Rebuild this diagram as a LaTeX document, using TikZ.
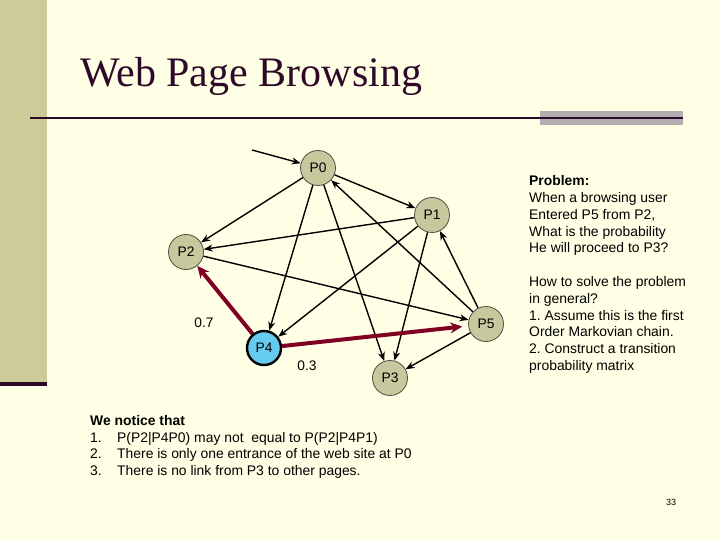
\documentclass[tikz,border=0pt]{standalone}
\usepackage{fontspec}
\setmainfont{Liberation Sans}
\newfontfamily\titlefont{Liberation Serif}
\usetikzlibrary{arrows.meta}
\frenchspacing
\definecolor{bgcream}{RGB}{255,255,229}
\definecolor{sidebar}{RGB}{204,204,153}
\definecolor{darkrule}{RGB}{46,10,40}
\definecolor{greybar}{RGB}{178,174,178}
\definecolor{pagefill}{RGB}{200,200,158}
\definecolor{pageedge}{RGB}{80,80,70}
\definecolor{hotfill}{RGB}{102,204,238}
\definecolor{pathred}{RGB}{128,0,36}
\tikzset{
  page/.style={circle, draw=pageedge, line width=0.8pt, fill=pagefill, minimum size=35pt, inner sep=0pt, font=\fontsize{13.8}{16}\selectfont},
  hotpage/.style={page, draw=black, line width=2.4pt, fill=hotfill, minimum size=34pt},
  link/.style={line width=1.4pt, -{Stealth[length=9pt,width=7pt]}},
  hotlink/.style={line width=4pt, color=pathred, -{Stealth[length=12pt,width=11pt]}},
  prob/.style={font=\fontsize{13.8}{16}\selectfont},
  body/.style={inner sep=0pt, align=left, anchor=north west, font=\fontsize{13.9}{16.8}\selectfont}
}
\begin{document}
\begin{tikzpicture}[x=1pt, y=-1pt]
\useasboundingbox (0,0) rectangle (720,540);
\fill[bgcream] (0,0) rectangle (720,540);
\fill[sidebar] (0,0) rectangle (47,382);
\fill[darkrule] (0,382) rectangle (47,386);
\fill[greybar] (540,111) rectangle (683,125);
\draw[darkrule, line width=2.5pt] (30,118) -- (683,118);
\node[anchor=base west, inner sep=0pt, text=darkrule, font=\titlefont\fontsize{42}{46}\selectfont] (title) at (80,87) {Web Page Browsing};

% pages
\node[page] (P0) at (318,168) {P0};
\node[page] (P1) at (432,215) {P1};
\node[page] (P2) at (186,252) {P2};
\node[page] (P3) at (390,378) {P3};
\node[page] (P5) at (486,324) {P5};
\node[hotpage] (P4) at (264,348) {P4};
\coordinate (entry) at (252,150);

% links
\draw[link] (entry) -- (P0);
\draw[link] (P0) -- (P2);
\draw[link] (P0) -- (P1);
\draw[link] (P0) -- (P4);
\draw[link] (P0) -- (P3);
\draw[link] (P1) -- (P2);
\draw[link] (P1) -- (P4);
\draw[link] (P1) -- (P3);
\draw[link] (P2) -- (P5);
\draw[link] (P5) -- (P0);
\draw[link] (P5) -- (P1);
\draw[link] (P5) -- (P3);
\draw[hotlink] (P4) -- (P2);
\draw[hotlink, shorten >=6pt] (P4) -- (P5);

\node[prob] (p07) at (204,323) {0.7};
\node[prob] (p03) at (307,366) {0.3};

% text
\node[body] (problem) at (529,175.5) {\textbf{Problem:}\\
When a browsing user\\
Entered P5 from P2,\\
What is the probability\\
He will proceed to P3?\\[16.8pt]
How to solve the problem\\
in general?\\
1. Assume this is the first\\
Order Markovian chain.\\
2. Construct a transition\\
probability matrix};

\node[body] (notice) at (90,415) {\textbf{We notice that}\\
\makebox[27pt][l]{1.}P(P2|P4P0) may not\ \ equal to P(P2|P4P1)\\
\makebox[27pt][l]{2.}There is only one entrance of the web site at P0\\
\makebox[27pt][l]{3.}There is no link from P3 to other pages.};

\node[anchor=base, inner sep=0pt, font=\fontsize{9}{10}\selectfont] (pgno) at (671,505) {33};
\end{tikzpicture}
\end{document}
